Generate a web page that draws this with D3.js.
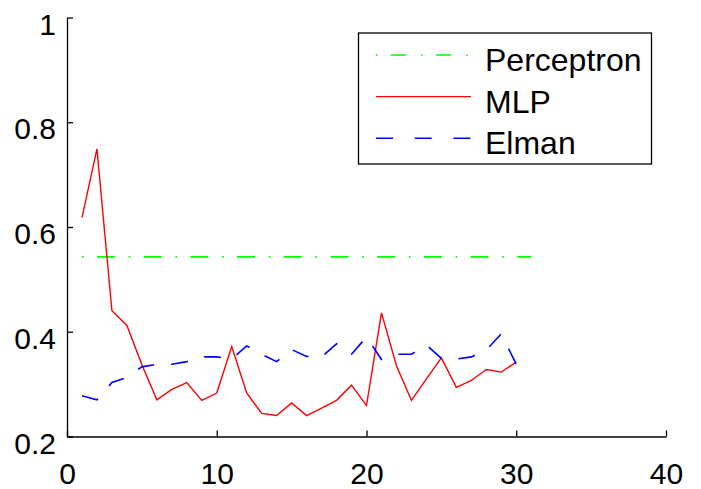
<!DOCTYPE html>
<html>
<head>
<meta charset="utf-8">
<script src="https://cdn.jsdelivr.net/npm/d3@7"></script>
<style>
  body { margin: 0; background: #fff; }
  text { font-family: Arial, "Liberation Sans", sans-serif; fill: #000; }
</style>
</head>
<body>
<div id="chart"></div>
<script>
// SVG size
var svgWidth = 701;
var svgHeight = 489;

// Data
var epochs = [1, 2, 3, 4, 5, 6, 7, 8, 9, 10, 11, 12, 13, 14, 15,
              16, 17, 18, 19, 20, 21, 22, 23, 24, 25, 26, 27, 28, 29, 30];
var mlp = [0.618, 0.749, 0.44, 0.412, 0.337, 0.270, 0.290, 0.303, 0.269, 0.283,
           0.372, 0.283, 0.244, 0.240, 0.264, 0.240, 0.254, 0.269, 0.298, 0.259,
           0.436, 0.335, 0.269, 0.310, 0.350, 0.294, 0.307, 0.328, 0.323, 0.342];
var elman = [0.278, 0.270, 0.303, 0.313, 0.333, 0.338, 0.338, 0.343, 0.352, 0.352,
             0.348, 0.373, 0.357, 0.343, 0.366, 0.353, 0.352, 0.377, 0.357, 0.39,
             0.347, 0.357, 0.357, 0.375, 0.349, 0.348, 0.352, 0.365, 0.396, 0.338];
var perceptronX = [1, 31];
var perceptronY = [0.543, 0.543];

var xTicks = [0, 10, 20, 30, 40];
var yTicks = [0.2, 0.4, 0.6, 0.8, 1];
var legendNames = ["Perceptron", "MLP", "Elman"];

// plot area
var margin = { top: 17.5, right: 35, bottom: 52.5, left: 67 };
var chartWidth = svgWidth - margin.left - margin.right;
var chartHeight = svgHeight - margin.top - margin.bottom;

var svg = d3.select("#chart")
    .append("svg")
    .attr("width", svgWidth)
    .attr("height", svgHeight);

var chartGroup = svg.append("g")
    .attr("transform", `translate(${margin.left}, ${margin.top})`);

// Scales
var xScale = d3.scaleLinear().domain([0, 40]).range([0, chartWidth]);
var yScale = d3.scaleLinear().domain([0.2, 1]).range([chartHeight, 0]);

// Axes (ticks point inward, like MATLAB)
var bottomAxis = d3.axisBottom(xScale)
    .tickValues(xTicks)
    .tickSizeInner(-6)
    .tickSizeOuter(0)
    .tickPadding(0)
    .tickFormat(d3.format("d"));
var leftAxis = d3.axisLeft(yScale)
    .tickValues(yTicks)
    .tickSizeInner(-6)
    .tickSizeOuter(0)
    .tickPadding(0)
    .tickFormat(d => d === 1 ? "1" : d3.format(".1f")(d));

var xAxisG = chartGroup.append("g")
    .attr("transform", `translate(0, ${chartHeight})`)
    .call(bottomAxis);
xAxisG.selectAll("text")
    .attr("y", 47)
    .attr("dy", 0)
    .style("font-size", "30px");

var yAxisG = chartGroup.append("g")
    .call(leftAxis);
yAxisG.selectAll("text")
    .attr("x", -11)
    .attr("dy", 0)
    .attr("y", 16.5)
    .style("font-size", "30px");

[xAxisG, yAxisG].forEach(function(g) {
    g.select(".domain").attr("stroke", "#000").attr("stroke-width", 1.3);
    g.selectAll(".tick line").attr("stroke", "#000").attr("stroke-width", 1.3);
    g.selectAll("text").attr("font-family", null).attr("font-size", null);
});

// lines
var line = d3.line()
    .x(d => xScale(d[0]))
    .y(d => yScale(d[1]));

chartGroup.append("path")
    .datum(perceptronX.map((x, i) => [x, perceptronY[i]]))
    .attr("d", line)
    .attr("fill", "none")
    .attr("stroke", "#00ff00")
    .attr("stroke-width", 1.6)
    .attr("stroke-dasharray", "1.6,13.4,18,13.7");

chartGroup.append("path")
    .datum(epochs.map((x, i) => [x, mlp[i]]))
    .attr("d", line)
    .attr("fill", "none")
    .attr("stroke", "#ff0000")
    .attr("stroke-width", 1.4);

chartGroup.append("path")
    .datum(epochs.map((x, i) => [x, elman[i]]))
    .attr("d", line)
    .attr("fill", "none")
    .attr("stroke", "#0000ff")
    .attr("stroke-width", 1.6)
    .attr("stroke-dasharray", "17,17");

// Legend
var legendStyles = [
    { color: "#00ff00", dash: "1.6,13.4,15,15", width: 1.6 },
    { color: "#ff0000", dash: null, width: 1.4 },
    { color: "#0000ff", dash: "17,21.7", width: 1.6 }
];

var legend = svg.append("g");
legend.append("rect")
    .attr("x", 358.5)
    .attr("y", 33)
    .attr("width", 293)
    .attr("height", 131)
    .attr("fill", "#fff")
    .attr("stroke", "#000")
    .attr("stroke-width", 1.3);

legendNames.forEach(function(name, i) {
    var ly = 55 + i * 41.6;
    legend.append("line")
        .attr("x1", 376)
        .attr("x2", 471)
        .attr("y1", ly)
        .attr("y2", ly)
        .attr("stroke", legendStyles[i].color)
        .attr("stroke-width", legendStyles[i].width)
        .attr("stroke-dasharray", legendStyles[i].dash);
    legend.append("text")
        .attr("x", 485)
        .attr("y", ly + 16)
        .style("font-size", "32px")
        .text(name);
});
</script>
</body>
</html>
